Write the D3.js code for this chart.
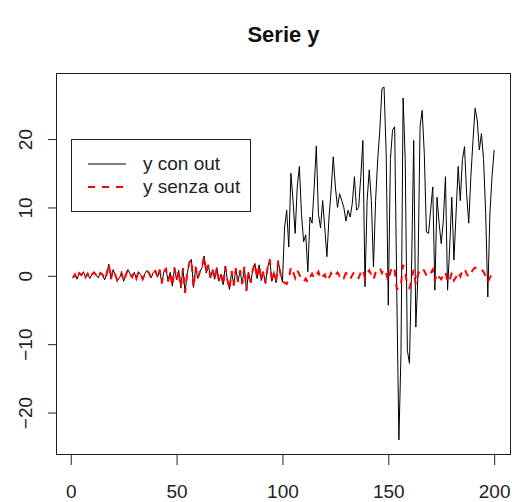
<!DOCTYPE html>
<html>
<head>
<meta charset="utf-8">
<script src="https://cdn.jsdelivr.net/npm/d3@7"></script>
<style>
  html, body { margin: 0; padding: 0; background: #fff; }
  svg { display: block; font-family: "Liberation Sans", Arial, Helvetica, sans-serif; }
</style>
</head>
<body>
<svg id="chart" width="512" height="502"></svg>
<script>
// Shared first half of the series (t = 1..100): identical in both versions
const sharedHead = [
  -0.3, 0.2, -0.5, 0.4, 0.1, 0.6, -0.2, 0.3, -0.4, 0.2,
  0.5, 0.1, -0.3, 0.4, 0.2, -0.6, 0.3, 1.7, -0.5, 0.9,
  0.2, -0.7, -0.3, 0.4, -0.8, 0.1, 0.9, 0.3, -0.2, 0.5,
  -0.4, 0.6, 0.2, -0.5, 0.3, 0.8, 0.4, -0.3, 0.5, 0.7,
  -0.2, 0.9, -1.1, 0.6, 1.0, -0.8, 0.5, -1.5, 1.2, -0.6,
  0.8, -1.8, 1.1, -2.5, 0.3, 1.9, 2.4, -1.7, 1.3, -0.4,
  0.6, 1.2, 2.9, 0.4, 1.6, -0.3, 0.9, -0.5, 1.2, -0.8,
  0.2, -1.3, 1.4, -0.6, -2.0, 0.7, -1.4, 1.1, -0.9, 0.8,
  -1.2, 1.3, -2.2, 0.5, -1.0, 0.9, 1.8, -0.4, 1.6, -0.7,
  0.6, -1.1, 1.2, 2.4, -0.8, 0.3, -1.0, 2.2, 0.4, -0.9
];

// Second half (t = 101..200) with outliers
const conOutTail = [
  7, 9.6, 4.2, 15, 11, 6.2, 13, 16, 9, 5,
  6, 0.6, 8.6, 7.7, 13, 19, 9, 7, 11, 7,
  2.8, 8.6, 12.5, 17.4, 13, 10, 12, 11, 10, 8,
  9.6, 8.6, 10.6, 14.5, 9.6, 10, 14.5, 19.8, -1.6, 11,
  15.5, 11, 1.3, 11, 17, 21.3, 27.4, 27.6, 17.9, -4.3,
  17, 21.3, 21.8, -2.1, -24, -11.4, 26, 17, -10.9, -12.8,
  1.3, 19.8, -7.5, 0, 21.8, 24.2, 17.9, 6.4, 6.2, 9.6,
  13, -2.1, 11.5, 7.7, 4.7, 8.1, 14.5, -2.1, 4.2, 11.5,
  2.3, 9, 16, 11, 17, 18.9, 12, 7.7, 14.5, 19.8,
  24.5, 22.8, 18.4, 20.8, 17, 9.1, -3.1, 9.1, 14.5, 18.4
];

// Second half (t = 101..200) with outliers removed
const senzaOutTail = [
  -1.0, -1.2, -0.5, 1.3, 0.6, -0.3, 0.8, 0.2, -0.6, -0.9,
  -0.4, -1.0, -0.2, 0.3, -0.4, 0.1, 0.6, -0.5, -0.1, 0.2,
  -0.8, -0.3, 0.4, -0.2, 0.1, 0.5, 0.0, 0.3, -0.3, 0.4,
  0.2, -0.5, 0.1, 0.6, 0.2, -0.3, 0.5, 1.0, -0.4, 0.3,
  0.8, 0.1, -0.6, 0.5, 0.9, 1.2, 0.4, 1.0, 0.3, -0.8,
  0.6, 1.4, 0.8, -1.9, -2.0, -1.2, 1.6, 0.5, -1.5, -1.8,
  -0.5, 0.9, -1.3, 0.2, 0.8, 1.2, 0.7, 0.1, -0.2, 0.3,
  0.9, -0.8, 0.4, -0.2, -0.5, 0.1, 0.6, -1.0, -0.6, 0.5,
  -0.7, -0.2, 0.6, -0.1, 0.8, 1.1, 0.3, -0.2, 0.4, 0.9,
  1.2, 1.0, 0.7, 0.9, 0.6, -0.1, -0.9, -0.3, 0.4, 0.8
];

const xTicks = [0, 50, 100, 150, 200];
const yTicks = [-20, -10, 0, 10, 20];
const legendLabels = ["y con out", "y senza out"];
const titleText = "Serie y";

const yCon = sharedHead.concat(conOutTail);
const ySenza = sharedHead.concat(senzaOutTail);
const toPoints = arr => arr.map((v, i) => ({ t: i + 1, v }));
const conPts = toPoints(yCon);
const senzaPts = toPoints(ySenza);

const svg = d3.select("#chart");
const plot = { left: 56, right: 511, top: 73, bottom: 454 };

// axis ranges padded by 4% of the data range on each side
const padded = ext => {
  const r = ext[1] - ext[0];
  return [ext[0] - 0.04 * r, ext[1] + 0.04 * r];
};
const x = d3.scaleLinear()
  .domain(padded([1, yCon.length]))
  .range([plot.left, plot.right]);
const y = d3.scaleLinear()
  .domain(padded(d3.extent(yCon.concat(ySenza))))
  .range([plot.bottom, plot.top]);

const line = d3.line().x(d => x(d.t)).y(d => y(d.v));

// series
svg.append("path")
  .datum(conPts)
  .attr("d", line)
  .attr("fill", "none")
  .attr("stroke", "#000")
  .attr("stroke-width", 1);

svg.append("path")
  .datum(senzaPts)
  .attr("d", line)
  .attr("fill", "none")
  .attr("stroke", "#ff0000")
  .attr("stroke-width", 2)
  .attr("stroke-dasharray", "7,7");

// frame
svg.append("rect")
  .attr("x", plot.left + 0.5)
  .attr("y", plot.top + 0.5)
  .attr("width", plot.right - plot.left - 1)
  .attr("height", plot.bottom - plot.top)
  .attr("fill", "none")
  .attr("stroke", "#222")
  .attr("stroke-width", 1);

// x axis
const xAxis = d3.axisBottom(x).tickValues(xTicks).tickSize(10).tickPadding(20).tickFormat(d3.format("d"));
const gx = svg.append("g").attr("transform", `translate(0,${plot.bottom + 1})`).call(xAxis);
gx.select(".domain").remove();
gx.selectAll(".tick line").attr("stroke", "#222");
gx.selectAll(".tick text")
  .attr("font-size", 19)
  .attr("fill", "#222")
  .attr("font-family", "Liberation Sans, Arial, sans-serif");

// y axis
const yAxis = d3.axisLeft(y).tickValues(yTicks).tickSize(8).tickFormat(d3.format("d"));
const gy = svg.append("g").attr("transform", `translate(${plot.left},0)`).call(yAxis);
gy.select(".domain").remove();
gy.selectAll(".tick line").attr("stroke", "#222");
gy.selectAll(".tick text")
  .attr("font-size", 19)
  .attr("fill", "#222")
  .attr("font-family", "Liberation Sans, Arial, sans-serif")
  .attr("x", null).attr("dy", null)
  .attr("text-anchor", "middle")
  .attr("transform", "translate(-24,0) rotate(-90)");

// title
svg.append("text")
  .attr("x", (plot.left + plot.right) / 2)
  .attr("y", 42)
  .attr("text-anchor", "middle")
  .attr("font-size", 22)
  .attr("font-weight", "bold")
  .attr("fill", "#111")
  .text(titleText);

// legend
const lg = svg.append("g");
lg.append("rect")
  .attr("x", 71.5).attr("y", 139.5)
  .attr("width", 179).attr("height", 72)
  .attr("fill", "#fff").attr("stroke", "#222");
const legendRows = [
  { label: legendLabels[0], color: "#000", width: 1, dash: null, yy: 164 },
  { label: legendLabels[1], color: "#ff0000", width: 2, dash: "7,7", yy: 187 }
];
legendRows.forEach(r => {
  lg.append("line")
    .attr("x1", 88).attr("x2", 126)
    .attr("y1", r.yy).attr("y2", r.yy)
    .attr("stroke", r.color)
    .attr("stroke-width", r.width)
    .attr("stroke-dasharray", r.dash);
  lg.append("text")
    .attr("x", 143).attr("y", r.yy + 6)
    .attr("font-size", 19)
    .attr("fill", "#222")
    .text(r.label);
});
</script>
</body>
</html>
